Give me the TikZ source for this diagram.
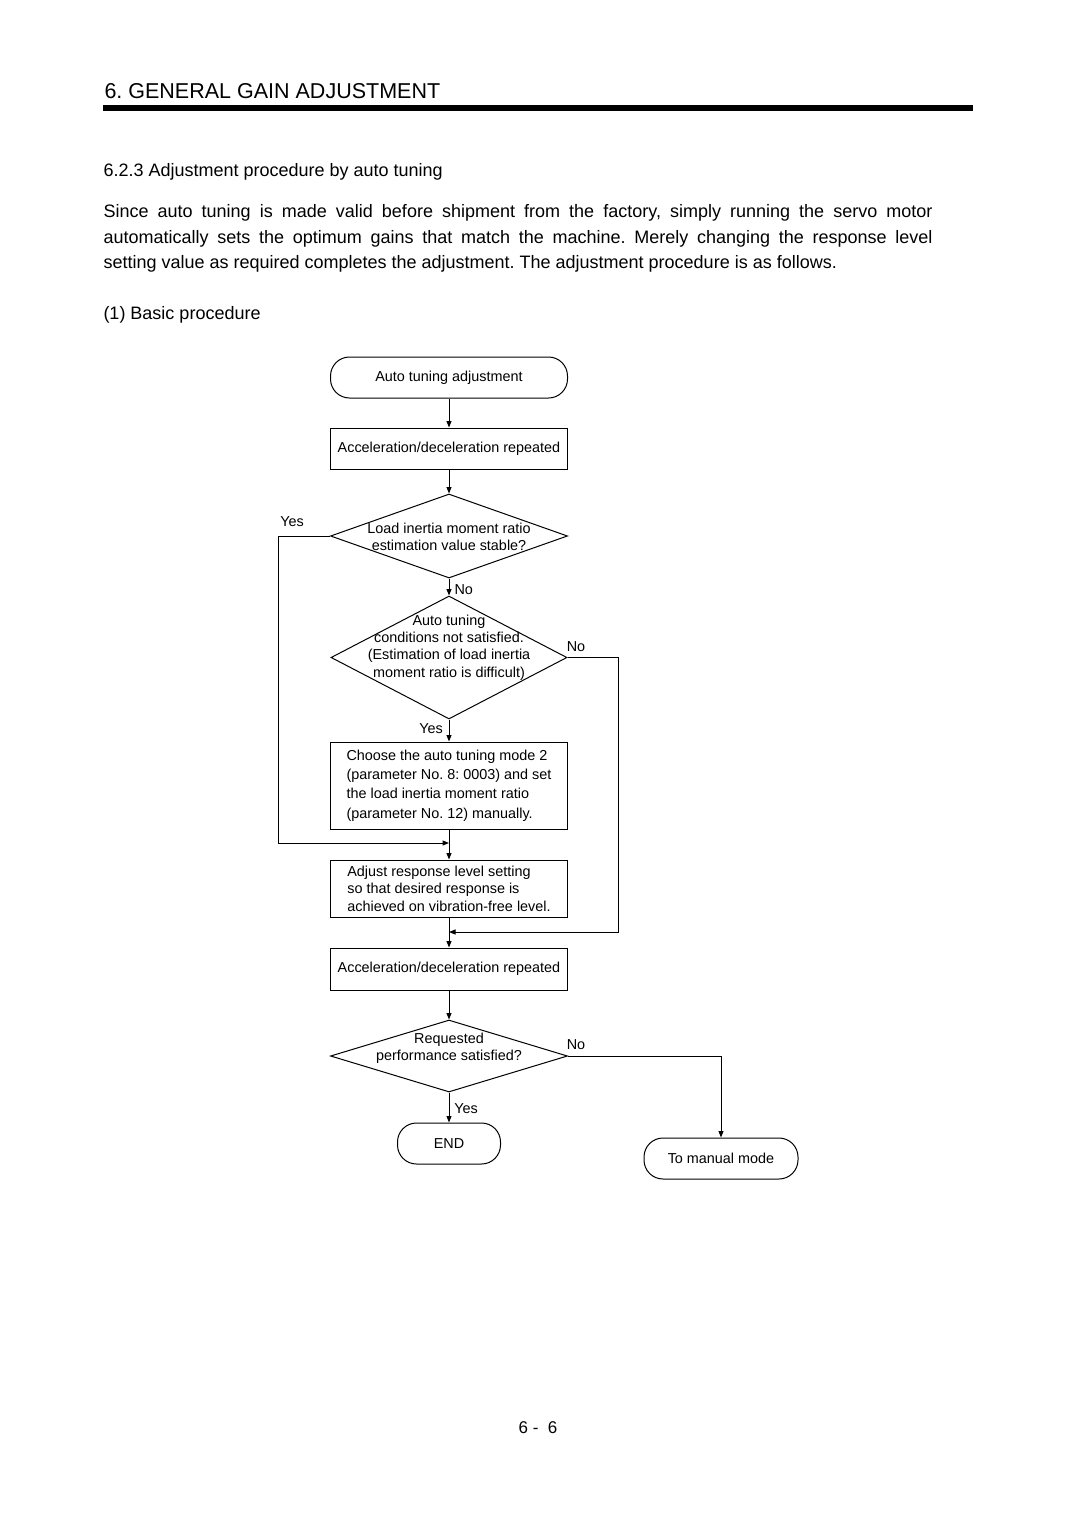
\documentclass[tikz,border=0pt]{standalone}
\usepackage{fontspec}
\setmainfont{Liberation Sans}
\usetikzlibrary{arrows.meta,shapes.geometric}
\begin{document}
\frenchspacing
\begin{tikzpicture}[x=1pt,y=-1pt,line width=1pt,
  arr/.style={-{Triangle[length=6.5pt,width=5pt]}},
  dfont/.style={font=\fontsize{14.4}{17.4}\selectfont},
  term/.style={draw,dfont,rounded corners=19pt,minimum height=41pt,inner sep=0pt},
  proc/.style={draw,dfont,minimum width=237pt,inner sep=0pt,align=left},
  dec/.style={draw,diamond,inner sep=0pt},
  dtext/.style={dfont,inner sep=0pt,align=center},
  lbl/.style={dfont,inner sep=0pt}]
\useasboundingbox (0,0) rectangle (1080,1528);
\fill[white] (0,0) rectangle (1080,1528);

% header
\node[anchor=base west,inner sep=0pt,font=\fontsize{21.5}{26}\selectfont] (title) at (104,99) {6. GENERAL GAIN ADJUSTMENT};
\fill (103,104.5) rectangle (973,111);

\node[anchor=base west,inner sep=0pt,font=\fontsize{18}{21}\selectfont] (sec) at (103,176) {6.2.3 Adjustment procedure by auto tuning};
\node[anchor=north west,inner sep=0pt,text width=829pt,align=justify,font=\fontsize{18}{25.5}\selectfont] (para) at (103,204)
  {Since auto tuning is made valid before shipment from the factory, simply running the servo motor\linebreak
   automatically sets the optimum gains that match the machine. Merely changing the response level\linebreak
   setting value as required completes the adjustment. The adjustment procedure is as follows.};
\node[anchor=base west,inner sep=0pt,font=\fontsize{18}{21}\selectfont] (sub) at (103,319) {(1) Basic procedure};

% flowchart
\node[term,minimum width=237pt] (start) at (449,377.5) {Auto tuning adjustment};
\node[proc,minimum height=41pt] (acc1) at (449,448.5) {Acceleration/deceleration repeated};
\node[dec,minimum width=237pt,minimum height=84pt] (d1) at (449,536) {};
\node[dtext] (d1t) at (449,537) {Load inertia moment ratio\\estimation value stable?};
\node[dec,minimum width=236pt,minimum height=123pt] (d2) at (449,657.5) {};
\node[dtext] (d2t) at (449,647.5) {Auto tuning\\conditions not satisfied.\\(Estimation of load inertia\\moment ratio is difficult)};
\node[proc,minimum height=87pt,font=\fontsize{14.4}{19.3}\selectfont] (man) at (449,785.5)
  {Choose the auto tuning mode 2\\(parameter No. 8: 0003) and set\\the load inertia moment ratio\\(parameter No. 12) manually.};
\node[proc,minimum height=57pt] (adj) at (449,888.5)
  {Adjust response level setting\\so that desired response is\\achieved on vibration-free level.};
\node[proc,minimum height=42pt] (acc2) at (449,969) {Acceleration/deceleration repeated};
\node[dec,minimum width=237pt,minimum height=72pt] (d3) at (449,1056) {};
\node[dtext] (d3t) at (449,1048.5) {Requested\\performance satisfied?};
\node[term,minimum width=103pt] (endn) at (449,1143.5) {END};
\node[term,minimum width=154pt] (manual) at (721,1158.5) {To manual mode};

\coordinate (m1) at (449,843);
\coordinate (m2) at (449,932);

\draw[arr] (start) -- (acc1);
\draw[arr] (acc1) -- (d1.north);
\draw[arr] (d1.south) -- (d2.north);
\draw[arr] (d2.south) -- (man);
\draw[arr] (man) -- (adj);
\draw[arr] (adj) -- (acc2);
\draw[arr] (acc2) -- (d3.north);
\draw[arr] (d3.south) -- (endn);
\draw[arr] (d1.west) -- ++(-52,0) |- (m1);
\draw[arr] (d2.east) -- ++(51,0) |- (m2);
\draw[arr] (d3.east) -| (manual.north);

% labels
\node[lbl] (yes1) at (292,522) {Yes};
\node[lbl,anchor=west] (no1) at (454,589.5) {No};
\node[lbl] (no2) at (576,646.5) {No};
\node[lbl] (yes2) at (431,728.5) {Yes};
\node[lbl] (no3) at (576,1044.5) {No};
\node[lbl] (yes3) at (466,1108.5) {Yes};

% page number
\node[anchor=base,inner sep=0pt,font=\fontsize{17}{20}\selectfont] (page) at (538,1433) {6 -\ \ 6};
\end{tikzpicture}
\end{document}
